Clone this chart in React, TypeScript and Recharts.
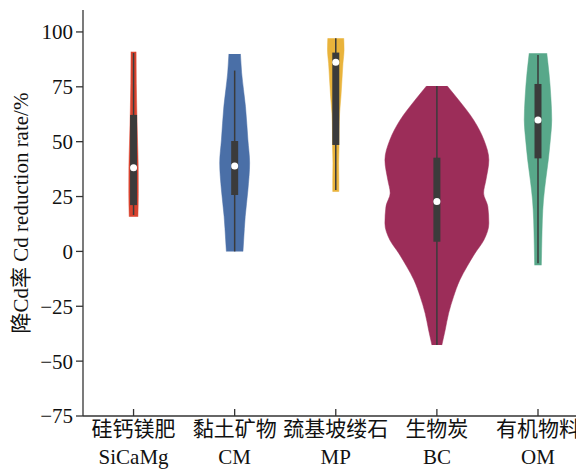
import { ComposedChart, Area, Line, XAxis, YAxis } from 'recharts';

// 类别
const namesZh = ['硅钙镁肥', '黏土矿物', '巯基坡缕石', '生物炭', '有机物料'];
const namesEn = ['SiCaMg', 'CM', 'MP', 'BC', 'OM'];
const colors = ['#d8432f', '#4a6fa7', '#e9b33b', '#9c2d59', '#58a88a'];

// violin profiles: value levels and half widths (in category units)
const levelsSiCaMg = [15.8, 26.5, 38.6, 49.4, 61.4, 76.6, 91.0];
const widthsSiCaMg = [0.043, 0.047, 0.046, 0.040, 0.033, 0.027, 0.025];

const levelsCM = [0, 5.2, 15.8, 28, 40.3, 50.8, 66, 81.3, 90];
const widthsCM = [0.082, 0.089, 0.104, 0.131, 0.148, 0.131, 0.107, 0.069, 0.057];

const levelsMP = [27.2, 32.5, 40.2, 47.7, 55.3, 62.9, 70.5, 78.1, 85.7, 91.8, 97.1];
const widthsMP = [0.030, 0.030, 0.028, 0.032, 0.033, 0.038, 0.051, 0.061, 0.071, 0.082, 0.079];

const levelsBC = [-42.7, -35.8, -28.2, -20.6, -13, -7, -0.9, 5.2, 12.8, 20.4, 26.6, 32.5, 41.7, 50.8, 59.9, 69, 75.4];
const widthsBC = [0.049, 0.082, 0.116, 0.165, 0.227, 0.297, 0.376, 0.465, 0.514, 0.504, 0.462, 0.485, 0.514, 0.465, 0.363, 0.215, 0.102];

const levelsOM = [-6.3, 5.2, 14.3, 23.4, 32.5, 41.7, 50.8, 59.9, 70.5, 81.2, 90.3];
const widthsOM = [0.033, 0.038, 0.043, 0.054, 0.076, 0.102, 0.122, 0.136, 0.127, 0.109, 0.087];

// box stats
const whiskerLow = [16.6, 0, 28, -42.7, -5.4];
const whiskerHigh = [90.4, 82.4, 97.1, 75.4, 89.5];
const q1 = [21.1, 25.7, 48.5, 4.4, 42.4];
const q3 = [62.2, 50.3, 90.6, 42.7, 76.3];
const medians = [38.1, 38.9, 86.2, 22.7, 59.9];

const yTicks = [-75, -50, -25, 0, 25, 50, 75, 100];
const xTicks = [0, 1, 2, 3, 4];

const profiles = [
  [levelsSiCaMg, widthsSiCaMg],
  [levelsCM, widthsCM],
  [levelsMP, widthsMP],
  [levelsBC, widthsBC],
  [levelsOM, widthsOM],
];

const violinData = profiles.map(([lv, wd], i) =>
  lv.map((y, k) => ({ y, range: [i - wd[k], i + wd[k]] }))
);
const whiskerData = xTicks.map((i) => [
  { y: whiskerLow[i], x: i },
  { y: whiskerHigh[i], x: i },
]);
const boxData = xTicks.map((i) => [
  { y: q1[i], x: i },
  { y: q3[i], x: i },
]);
const medianData = xTicks.map((i) => ({ y: medians[i], x: i }));

const FONT = "'Liberation Serif', 'Times New Roman', 'Noto Sans CJK SC', serif";
const AXIS = '#333';

const CategoryTick = (props: any) => {
  const { x, y, payload } = props;
  const i = payload.value;
  return (
    <g>
      <line x1={x} y1={y} x2={x} y2={y - 7} stroke={AXIS} strokeWidth={1.3} />
      <text x={x} y={y} textAnchor="middle" fontSize={21} fill="#111" fontFamily={FONT}>
        <tspan x={x} dy={20}>{namesZh[i]}</tspan>
        <tspan x={x} dy={28}>{namesEn[i]}</tspan>
      </text>
    </g>
  );
};

const YTitle = (props: any) => {
  const vb = props.viewBox;
  const cx = vb.x + 21;
  const cy = vb.y + vb.height / 2;
  return (
    <text
      x={cx}
      y={cy}
      transform={`rotate(-90 ${cx} ${cy})`}
      textAnchor="middle"
      dominantBaseline="central"
      fontSize={21}
      fill="#111"
      fontFamily={FONT}
    >
      降Cd率 Cd reduction rate/%
    </text>
  );
};

const fmt = (v: number) => (v < 0 ? '\u2212' + Math.abs(v) : String(v));

export default function App() {
  return (
    <div style={{ margin: '-8px 0 0 -8px', width: 584, height: 469, background: '#fff' }}>
      <ComposedChart
        width={584}
        height={469}
        layout="vertical"
        margin={{ top: 10, right: 0, bottom: 0, left: 0 }}
      >
        <XAxis
          type="number"
          domain={[-0.5, 4.455]}
          ticks={xTicks}
          allowDataOverflow
          height={53}
          tickSize={0}
          tickMargin={0}
          tickLine={false}
          axisLine={{ stroke: AXIS, strokeWidth: 1.3 }}
          tick={<CategoryTick />}
          interval={0}
        />
        <YAxis
          type="number"
          dataKey="y"
          reversed
          domain={[-75, 110]}
          ticks={yTicks}
          allowDataOverflow
          width={83}
          tickSize={7}
          tickMargin={3}
          tickFormatter={fmt}
          tick={{ fontSize: 21, fill: '#111', fontFamily: FONT }}
          tickLine={{ stroke: AXIS, strokeWidth: 1.3 }}
          axisLine={{ stroke: AXIS, strokeWidth: 1.3 }}
          label={<YTitle />}
          interval={0}
        />
        {violinData.map((d, i) => (
          <Area
            key={`v${i}`}
            data={d}
            dataKey="range"
            type="monotone"
            fill={colors[i]}
            fillOpacity={1}
            stroke={colors[i]}
            strokeWidth={0.5}
            dot={false}
            activeDot={false}
            isAnimationActive={false}
          />
        ))}
        {whiskerData.map((d, i) => (
          <Line
            key={`w${i}`}
            data={d}
            dataKey="x"
            stroke="#3b3b3b"
            strokeWidth={1.5}
            dot={false}
            activeDot={false}
            isAnimationActive={false}
          />
        ))}
        {boxData.map((d, i) => (
          <Line
            key={`b${i}`}
            data={d}
            dataKey="x"
            stroke="#3b3b3b"
            strokeWidth={7}
            dot={false}
            activeDot={false}
            isAnimationActive={false}
          />
        ))}
        <Line
          data={medianData}
          dataKey="x"
          stroke="none"
          dot={{ r: 3.5, fill: '#fff', stroke: 'none' }}
          activeDot={false}
          isAnimationActive={false}
        />
      </ComposedChart>
    </div>
  );
}
